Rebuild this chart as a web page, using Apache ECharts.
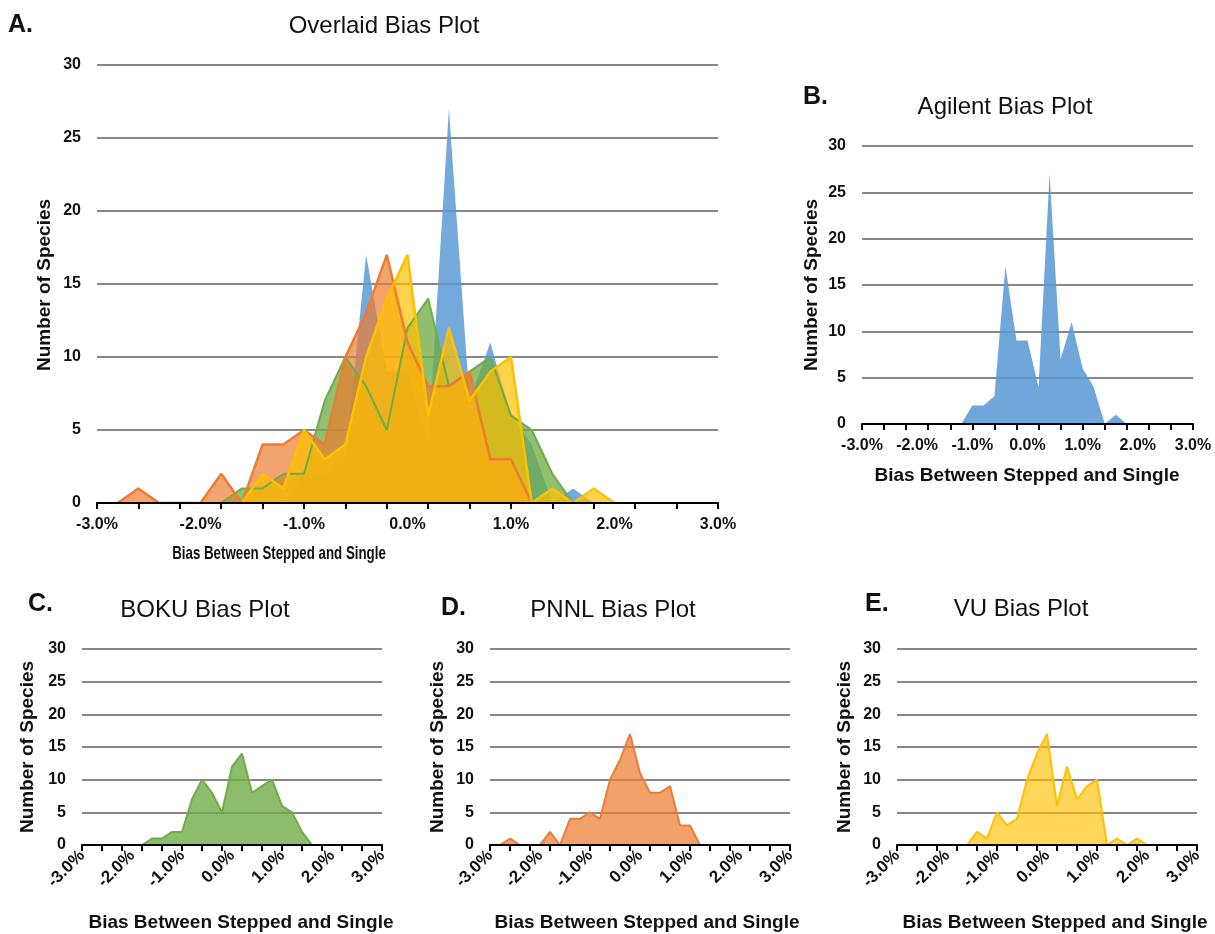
<!DOCTYPE html>
<html><head><meta charset="utf-8">
<script src="https://cdn.jsdelivr.net/npm/echarts@6/dist/echarts.min.js"></script>
<style>html,body{margin:0;padding:0;background:#fff}#c{width:1215px;height:934px}</style>
</head><body><div id="c"></div>
<script>
// Bias bins (category axis, 0.2% step)
const categories = ['-3.0%','-2.8%','-2.6%','-2.4%','-2.2%','-2.0%','-1.8%','-1.6%','-1.4%','-1.2%',
  '-1.0%','-0.8%','-0.6%','-0.4%','-0.2%','0.0%','0.2%','0.4%','0.6%','0.8%',
  '1.0%','1.2%','1.4%','1.6%','1.8%','2.0%','2.2%','2.4%','2.6%','2.8%','3.0%'];
// Number of species per bin
const agilent = [null,null,null,null,null,null,null,null,null,0, 2,2,3,17,9,9,4,27,7,11, 6,4,0,1,0,null,null,null,null,null,null];
const boku    = [null,null,null,null,null,null,0,1,1,2, 2,7,10,8,5,12,14,8,9,10, 6,5,2,0,null,null,null,null,null,null,null];
const pnnl    = [null,0,1,0,0,0,2,0,4,4, 5,4,10,13,17,11,8,8,9,3, 3,0,null,null,null,null,null,null,null,null,null];
const vu      = [null,null,null,null,null,null,null,0,2,1, 5,3,4,10,14,17,6,12,7,9, 10,0,1,0,1,0,null,null,null,null,null];
const yMax = 30, yStep = 5;

const C = {blue:'#5B9BD5', orange:'#ED7D31', green:'#70AD47', yellow:'#FFC000'};
const FONT = "'Liberation Sans', Arial, sans-serif";

const grids = [
  {left:97, top:65, width:621, height:438},
  {left:862, top:146, width:331, height:278},
  {left:82, top:649, width:300, height:196},
  {left:490, top:649, width:300, height:196},
  {left:897, top:649, width:300, height:196}
].map(g => Object.assign({outerBoundsMode:'none', containLabel:false}, g));

function xAxis(i, rotated, main) {
  return {
    type:'category', gridIndex:i, data:categories, boundaryGap:false, z:5,
    axisLine:{lineStyle:{color:'#000', width:2}},
    axisTick:{show:true, interval:1, length:6, lineStyle:{color:'#000', width:2}},
    axisLabel:{interval:4, rotate: rotated ? 45 : 0, fontWeight:'bold', fontSize: rotated ? 17 : 16,
      fontFamily: FONT, color:'#111', margin: rotated ? 8 : 14,
      hideOverlap:false},
    splitLine:{show:false}
  };
}
function yAxis(i) {
  return {
    type:'value', gridIndex:i, min:0, max:yMax, interval:yStep,
    axisLine:{show:false}, axisTick:{show:false},
    splitLine:{show:true, lineStyle:{color:'#878787', width:2}},
    axisLabel:{fontWeight:'bold', fontSize:16, fontFamily:FONT, color:'#111', margin:16}
  };
}
function area(i, data, color, fillOp, lineW) {
  return {
    type:'line', xAxisIndex:i, yAxisIndex:i, data:data, symbol:'none', smooth:false,
    connectNulls:false, silent:true,
    lineStyle:{color:color, width:lineW, opacity: lineW > 0 ? 1 : 0},
    itemStyle:{color:color},
    areaStyle:{color:color, opacity:fillOp}
  };
}

function txt(x, y, text, font, opts) {
  opts = opts || {};
  return {
    type:'text', x:x, y:y, rotation: opts.rot || 0, scaleX: opts.sx || 1, z:20,
    style:{text:text, font:font, fill:'#111', align:opts.align || 'center', verticalAlign:'middle',
      textAlign:opts.align || 'center', textVerticalAlign:'middle'}
  };
}
const titleFont = "24px " + FONT;
const letterFont = "bold 25px " + FONT;
const yFont = "bold 19px " + FONT;
const xName = 'Bias Between Stepped and Single';
const yName = 'Number of Species';

const graphics = [
  txt(8, 25, 'A.', letterFont, {align:'left'}),
  txt(384, 26, 'Overlaid Bias Plot', titleFont),
  txt(279, 554, xName, "bold 19px " + FONT, {sx:0.7}),
  txt(45, 285, yName, yFont, {rot:Math.PI/2}),

  txt(803, 97, 'B.', letterFont, {align:'left'}),
  txt(1005, 107, 'Agilent Bias Plot', titleFont),
  txt(1027, 476, xName, "bold 19px " + FONT),
  txt(812, 285, yName, yFont, {rot:Math.PI/2}),

  txt(28, 604, 'C.', letterFont, {align:'left'}),
  txt(205, 610, 'BOKU Bias Plot', titleFont),
  txt(241, 923, xName, "bold 19px " + FONT),
  txt(28, 747, yName, yFont, {rot:Math.PI/2}),

  txt(441, 608, 'D.', letterFont, {align:'left'}),
  txt(613, 610, 'PNNL Bias Plot', titleFont),
  txt(647, 923, xName, "bold 19px " + FONT),
  txt(438, 747, yName, yFont, {rot:Math.PI/2}),

  txt(865, 604, 'E.', letterFont, {align:'left'}),
  txt(1021, 609, 'VU Bias Plot', titleFont),
  txt(1055, 923, xName, "bold 19px " + FONT),
  txt(845, 747, yName, yFont, {rot:Math.PI/2})
];

const option = {
  animation:false,
  backgroundColor:'#fff',
  grid: grids,
  xAxis: [xAxis(0,false,true), xAxis(1,false,false), xAxis(2,true,false), xAxis(3,true,false), xAxis(4,true,false)],
  yAxis: [yAxis(0), yAxis(1), yAxis(2), yAxis(3), yAxis(4)],
  series: [
    area(0, agilent, C.blue, 0.85, 0),
    area(0, boku, C.green, 0.78, 2),
    area(0, pnnl, C.orange, 0.7, 2.5),
    area(0, vu, C.yellow, 0.7, 2.5),
    area(1, agilent, C.blue, 0.88, 0),
    area(2, boku, C.green, 0.8, 2),
    area(3, pnnl, C.orange, 0.72, 2),
    area(4, vu, C.yellow, 0.65, 2)
  ],
  graphic: graphics
};
const chart = echarts.init(document.getElementById('c'), null, {renderer:'canvas'});
chart.setOption(option);
</script></body></html>
